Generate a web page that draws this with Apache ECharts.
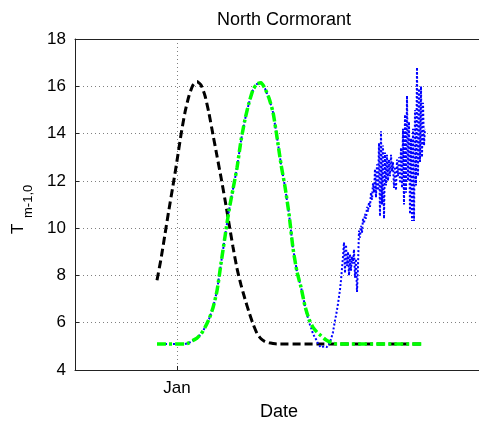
<!DOCTYPE html>
<html>
<head>
<meta charset="utf-8">
<script src="https://cdn.jsdelivr.net/npm/echarts@6/dist/echarts.min.js"></script>
<style>
  html, body { margin: 0; padding: 0; background: #fff; overflow: hidden; }
  #chart { width: 479px; height: 421px; }
</style>
</head>
<body>
<div id="chart"></div>
<script>
// Days are counted from 1 January.
const xTickDays = [0];
const xTickLabels = ['Jan'];
const yTicks = [4, 6, 8, 10, 12, 14, 16, 18];

// Black dashed curve
const blackDays = [-10, -8, -6, -4, -2, 0, 2, 4, 6, 8, 10, 12, 14, 16, 18, 20, 22, 24, 26, 28,
  30, 32, 34, 36, 38, 40, 42, 44, 46, 48, 50, 123];
const blackVals = [7.8, 8.7, 9.75, 10.8, 11.8, 12.85, 13.95, 14.9, 15.6, 16.05, 16.2, 16.05, 15.6, 14.85, 13.95, 13.05, 12.15, 11.2, 10.2, 9.2,
  8.3, 7.6, 7.0, 6.45, 5.95, 5.55, 5.32, 5.2, 5.15, 5.12, 5.1, 5.1];

// Green dash-dot curve
const greenDays = [-10, 4, 6, 8, 10, 12, 14, 16, 18, 20, 22, 24, 26, 28, 30, 32, 34, 36, 38, 40,
  42, 44, 46, 48, 50, 52, 54, 56, 58, 60, 62, 64, 66, 68, 70, 72, 74, 76, 78, 80, 123];
const greenVals = [5.1, 5.1, 5.15, 5.25, 5.35, 5.52, 5.8, 6.15, 6.63, 7.35, 8.5, 9.64, 10.75, 11.65, 12.55, 13.7, 14.6, 15.3, 15.85, 16.1,
  16.15, 15.9, 15.5, 14.9, 13.85, 12.7, 11.75, 10.6, 9.15, 8.15, 7.5, 6.7, 6.15, 5.8, 5.6, 5.45, 5.3, 5.2, 5.14, 5.1, 5.1];

// Blue dotted series: smooth first part, then half-day samples
const blueEarlyDays = [-10, 4, 6, 8, 10, 12, 14, 16, 18, 20, 22, 24, 26, 28, 30, 32, 34, 36, 38, 40,
  42, 44, 46, 48, 50, 52, 54, 56, 58, 60, 62, 64];
const blueEarlyVals = [5.1, 5.1, 5.15, 5.25, 5.35, 5.52, 5.8, 6.15, 6.63, 7.35, 8.5, 9.64, 10.75, 11.65, 12.55, 13.7, 14.6, 15.3, 15.85, 16.1,
  16.15, 15.9, 15.5, 14.9, 13.85, 12.7, 11.75, 10.6, 9.15, 8.15, 7.5, 6.7];
const blueLateStart = 64.5;
const blueLateStep = 0.5;
const blueLateVals = [
  6.5, 6.35, 6.2, 6.05, 5.9, 5.8, 5.65, 5.55, 5.45, 5.38,
  5.3, 5.2, 5.15, 5.05, 5.0, 4.95, 4.98, 4.92, 5.0, 4.95,
  5.02, 4.97, 5.05, 5.1, 5.2, 5.3, 5.45, 5.6, 5.85, 6.1,
  6.3, 6.55, 6.8, 7.1, 7.4, 7.8, 8.3, 8.8, 9.4, 8.1,
  9.3, 8.4, 9.0, 8.0, 8.9, 8.2, 8.8, 8.5, 9.1, 7.9,
  8.7, 7.3, 8.4, 9.9, 9.6, 10.1, 9.8, 10.4, 10.2, 10.6,
  10.4, 10.9, 10.7, 11.1, 10.9, 11.5, 11.2, 11.9, 11.5, 12.5,
  11.3, 12.7, 11.6, 13.6, 10.5, 14.1, 11.0, 13.5, 10.4, 13.2,
  11.8, 13.1, 12.0, 12.9, 12.2, 13.1, 12.4, 12.8, 11.7, 12.6,
  11.6, 12.9, 12.2, 13.0, 11.9, 13.4, 11.7, 14.2, 11.0, 14.8,
  11.5, 15.6, 12.0, 14.5, 10.6, 13.8, 10.3, 14.2, 10.3, 15.0,
  11.8, 16.8, 12.2, 15.9, 12.8, 16.0, 13.0, 15.3, 13.5, 14.2
];

function pairs(days, vals) {
  return days.map((d, i) => [d, vals[i]]);
}
const blueData = pairs(blueEarlyDays, blueEarlyVals).concat(
  blueLateVals.map((v, i) => [blueLateStart + i * blueLateStep, v])
);

const FONT = '"Liberation Sans", Arial, Helvetica, sans-serif';
const gridDots = { color: '#808080', width: 1, type: [1, 3] };
const axisDark = { color: '#222', width: 1 };

const chart = echarts.init(document.getElementById('chart'), null, { renderer: 'canvas' });
chart.setOption({
  backgroundColor: '#ffffff',
  animation: false,
  title: {
    text: 'North Cormorant',
    left: 279, top: 6, textAlign: 'center',
    textStyle: { fontFamily: FONT, fontSize: 18, fontWeight: 'normal', color: '#000' }
  },
  grid: {
    left: 75, top: 39, width: 408, height: 331,
    outerBoundsMode: 'none', containLabel: false,
    show: false
  },
  xAxis: [{
    type: 'value', min: -51, max: 153,
    name: 'Date', nameLocation: 'middle', nameGap: 33,
    nameTextStyle: { fontFamily: FONT, fontSize: 18, color: '#000' },
    axisLine: { show: true, onZero: false, lineStyle: axisDark },
    axisTick: { show: true, inside: true, length: 4, customValues: xTickDays, lineStyle: { color: '#222' } },
    axisLabel: {
      customValues: xTickDays, margin: 10,
      fontFamily: FONT, fontSize: 17, color: '#000',
      formatter: v => xTickLabels[xTickDays.indexOf(v)] || ''
    },
    splitLine: { show: true, lineStyle: gridDots }
  }, {
    // top edge of the box
    type: 'value', position: 'top', min: -51, max: 153,
    axisLine: { show: true, onZero: false, lineStyle: axisDark },
    axisTick: { show: false }, axisLabel: { show: false }, splitLine: { show: false }
  }],
  yAxis: {
    type: 'value', min: yTicks[0], max: yTicks[yTicks.length - 1], interval: 2,
    axisLine: { show: true, onZero: false, lineStyle: axisDark },
    axisTick: { show: true, inside: true, length: 4, lineStyle: { color: '#222' } },
    axisLabel: { margin: 9, fontFamily: FONT, fontSize: 17, color: '#000' },
    splitLine: { show: true, lineStyle: gridDots }
  },
  graphic: [{
    type: 'group',
    x: 18, y: 228,
    rotation: Math.PI / 2,
    children: [
      { type: 'text', x: -6, y: 0,
        style: { text: 'T', font: '17px ' + FONT, fill: '#000', align: 'left', verticalAlign: 'middle' } },
      { type: 'text', x: 10, y: 10,
        style: { text: 'm-1,0', font: '13px ' + FONT, fill: '#000', align: 'left', verticalAlign: 'middle' } }
    ]
  }],
  series: [
    {
      type: 'line', data: pairs(blackDays, blackVals), showSymbol: false, smooth: 0.2,
      lineStyle: { color: '#000000', width: 3, type: [8, 4] }, z: 2
    },
    {
      type: 'line', data: blueData, showSymbol: false,
      lineStyle: { color: '#0000ff', width: 2, type: [2, 2] }, z: 3
    },
    {
      type: 'line', data: pairs(greenDays, greenVals), showSymbol: false, smooth: 0.2,
      lineStyle: { color: '#00ff00', width: 3.5, type: [9, 3, 3, 3] }, z: 4
    }
  ]
});
</script>
</body>
</html>
